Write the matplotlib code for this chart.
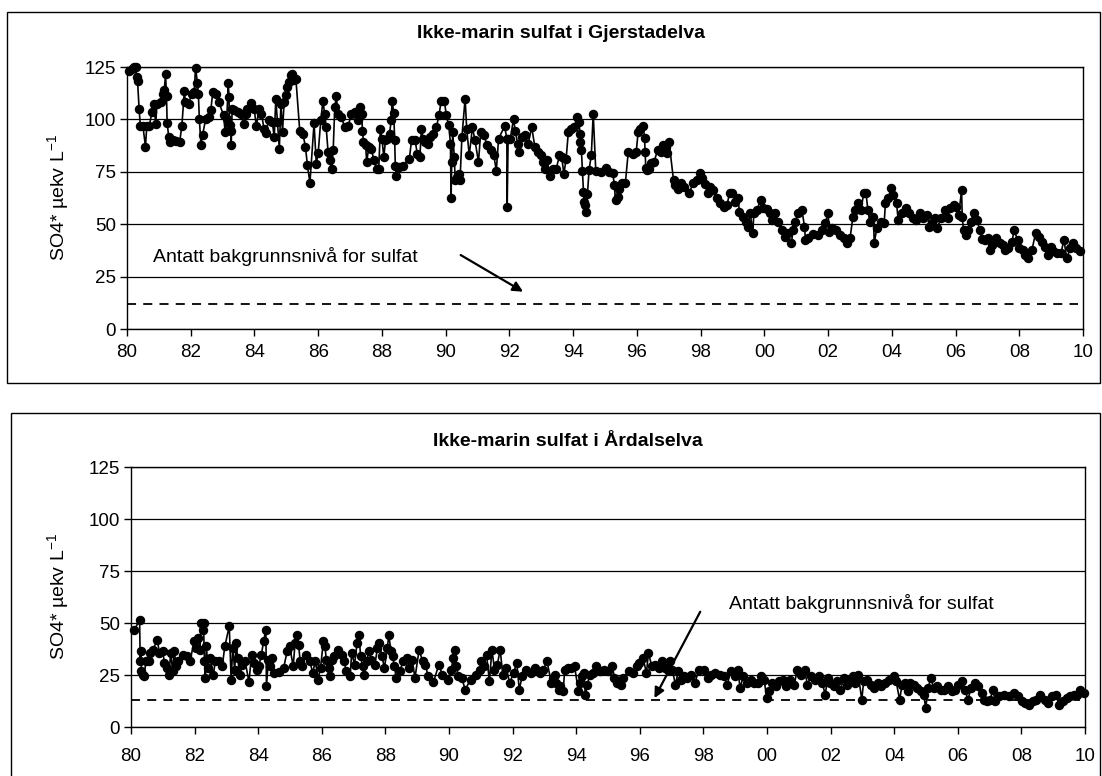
import matplotlib
matplotlib.use("Agg")
import matplotlib.pyplot as plt
from matplotlib.patches import Rectangle

plt.rcParams['font.family'] = ['Liberation Sans', 'DejaVu Sans']

# ---- data: (decimal year, SO4* µekv/L) ----
gj_1980_84 = [
    (1980.05, 123), (1980.15, 124), (1980.22, 125), (1980.28, 125), (1980.30, 120), (1980.33, 118.5),
    (1980.38, 105), (1980.42, 96.7), (1980.50, 96.7), (1980.58, 87), (1980.62, 96.7), (1980.70, 96.7),
    (1980.78, 103.5), (1980.85, 107.5), (1980.90, 97.6), (1980.94, 107.5),
    (1981.07, 108.3), (1981.12, 112), (1981.17, 114), (1981.21, 121.5), (1981.24, 111), (1981.26, 98.5),
    (1981.31, 91.5), (1981.36, 89), (1981.45, 90), (1981.55, 89.5), (1981.65, 89), (1981.72, 96.7),
    (1981.80, 113.5), (1981.83, 108.3), (1981.93, 107.5),
    (1982.03, 112), (1982.11, 113), (1982.15, 124.7), (1982.21, 117.4), (1982.24, 112), (1982.27, 100.3),
    (1982.32, 88), (1982.37, 92.4), (1982.47, 100.3), (1982.58, 101), (1982.63, 104.3), (1982.69, 113),
    (1982.78, 112), (1982.88, 108.3),
    (1983.03, 102), (1983.08, 94), (1983.13, 100.3), (1983.18, 117.4), (1983.20, 110.7), (1983.22, 97.1),
    (1983.25, 94.7), (1983.27, 88), (1983.30, 105), (1983.37, 104.3), (1983.48, 103.5), (1983.58, 102.7),
    (1983.66, 97.6), (1983.73, 102.7), (1983.78, 105), (1983.88, 107.8), (1983.99, 105),
    (1984.06, 96.7), (1984.14, 105), (1984.22, 102.7), (1984.30, 95.5), (1984.35, 93.5), (1984.45, 99.5),
    (1984.56, 98.7), (1984.62, 91.6), (1984.67, 109.9), (1984.72, 98.7), (1984.78, 86), (1984.83, 107.5),
    (1984.88, 94), (1984.93, 108.3), (1984.98, 111.5),
]
gj_1985_89 = [
    (1985.03, 115.5), (1985.09, 117.8), (1985.14, 121), (1985.19, 121.8), (1985.25, 118.6), (1985.30, 119.4),
    (1985.42, 94.7), (1985.52, 93), (1985.60, 87), (1985.66, 78.3), (1985.74, 69.7), (1985.87, 98.2),
    (1985.94, 78.8),
    (1986.00, 84), (1986.08, 99.5), (1986.15, 109), (1986.20, 102.7), (1986.25, 96.3), (1986.31, 84.4),
    (1986.36, 80.4), (1986.42, 76.4), (1986.47, 85.2), (1986.52, 105.9), (1986.57, 111), (1986.62, 102.7),
    (1986.73, 101), (1986.83, 96.3), (1986.94, 96.7),
    (1987.04, 102.7), (1987.15, 103.5), (1987.25, 99.5), (1987.31, 105.9), (1987.36, 102.7), (1987.39, 94.7),
    (1987.42, 89.2), (1987.49, 87.6), (1987.52, 79.6), (1987.59, 86.8), (1987.66, 86), (1987.75, 80.7),
    (1987.83, 76.4), (1987.90, 76.4), (1987.95, 95.5),
    (1988.00, 90.8), (1988.06, 82), (1988.11, 90), (1988.16, 90.8), (1988.24, 93.2), (1988.29, 99.5),
    (1988.32, 109), (1988.37, 103), (1988.40, 90), (1988.42, 78), (1988.45, 73.2), (1988.52, 77.2),
    (1988.65, 78), (1988.86, 81.2), (1988.93, 90),
    (1989.04, 90), (1989.11, 83.6), (1989.19, 82), (1989.24, 95.5), (1989.29, 90.8), (1989.35, 89.2),
    (1989.45, 88.4), (1989.52, 91.6), (1989.60, 93.2), (1989.71, 96.3), (1989.79, 101.9), (1989.86, 109),
    (1989.96, 109),
]
gj_1990_94 = [
    (1990.02, 101.9), (1990.10, 97.1), (1990.15, 88.4), (1990.17, 62.6), (1990.19, 79.6), (1990.22, 94),
    (1990.27, 82), (1990.30, 70.9), (1990.36, 72.5), (1990.41, 74), (1990.45, 70.9), (1990.51, 91.6),
    (1990.61, 109.9), (1990.66, 95.5), (1990.74, 82.8), (1990.84, 96.3), (1990.92, 90),
    (1991.03, 79.6), (1991.10, 94), (1991.20, 92.4), (1991.30, 87.6), (1991.41, 85.2), (1991.51, 82.8),
    (1991.59, 75.6), (1991.66, 90.8), (1991.85, 96.7), (1991.92, 90.8), (1991.93, 58.3), (1991.96, 90.8),
    (1992.03, 90.8), (1992.13, 100.3), (1992.18, 94.7), (1992.26, 88.4), (1992.30, 84.4), (1992.39, 91.6),
    (1992.49, 92.4), (1992.59, 88.4), (1992.70, 96.3), (1992.80, 86.8), (1992.90, 84.4), (1992.98, 82.8),
    (1993.06, 79.6), (1993.13, 76.4), (1993.19, 80.4), (1993.26, 73.2), (1993.37, 76.4), (1993.47, 76.4),
    (1993.57, 82.8), (1993.64, 82), (1993.71, 74), (1993.78, 81.2), (1993.85, 94), (1993.93, 95.5),
    (1994.04, 96.3), (1994.12, 101), (1994.19, 98.7), (1994.21, 93.2), (1994.23, 89.2), (1994.26, 85.2),
    (1994.29, 75.6), (1994.32, 65.3), (1994.34, 60.7), (1994.37, 59), (1994.40, 55.6), (1994.45, 64.5),
    (1994.50, 76), (1994.57, 82.8), (1994.63, 102.7), (1994.71, 75.6), (1994.86, 74.8),
]
gj_1995_99 = [
    (1995.03, 77), (1995.14, 75), (1995.25, 74.2), (1995.29, 68.7), (1995.33, 61.5), (1995.40, 63.1),
    (1995.44, 67), (1995.53, 69.5), (1995.64, 69.8), (1995.73, 84.5), (1995.89, 83.4), (1995.98, 84.5),
    (1996.04, 94), (1996.11, 95.6), (1996.20, 96.8), (1996.24, 90.9), (1996.26, 84.5), (1996.28, 76.6),
    (1996.32, 75.8), (1996.37, 76.1), (1996.43, 79), (1996.54, 79.8), (1996.65, 85.3), (1996.76, 84.5),
    (1996.82, 87.7), (1996.90, 86.6), (1996.96, 83.8),
    (1997.01, 89.3), (1997.15, 71), (1997.21, 68.7), (1997.30, 66.6), (1997.38, 69.5), (1997.49, 67.9),
    (1997.64, 65), (1997.77, 69.5), (1997.88, 71), (1997.97, 74.2),
    (1998.05, 71.9), (1998.13, 69.2), (1998.22, 64.7), (1998.31, 67.9), (1998.38, 66.3), (1998.50, 62.3),
    (1998.61, 60), (1998.72, 58.4), (1998.83, 59.2), (1998.91, 65),
    (1999.00, 64.7), (1999.09, 60.8), (1999.17, 62.3), (1999.22, 56), (1999.34, 53.6), (1999.43, 51.2),
    (1999.48, 48.9), (1999.56, 55.2), (1999.64, 45.7), (1999.67, 55.2), (1999.76, 56.8), (1999.89, 61.5),
    (1999.95, 57.6),
]
gj_2000_04 = [
    (2000.08, 57.1), (2000.17, 55.2), (2000.23, 52), (2000.34, 55.2), (2000.43, 51.2), (2000.57, 47.3),
    (2000.66, 43.8), (2000.73, 45.7), (2000.85, 40.9), (2000.90, 47.3), (2000.96, 51.2),
    (2001.07, 55.2), (2001.18, 56.8), (2001.26, 48.9), (2001.29, 42.5), (2001.37, 43.3), (2001.52, 45.4),
    (2001.68, 44.9), (2001.80, 47.3), (2001.91, 50.4), (2002.00, 55.2),
    (2002.04, 46.5), (2002.13, 48.1), (2002.24, 47.3), (2002.36, 44.9), (2002.49, 43.3), (2002.58, 40.9),
    (2002.69, 43.3), (2002.78, 53.6), (2002.86, 56.8), (2002.94, 60),
    (2003.03, 56.8), (2003.12, 64.7), (2003.19, 64.7), (2003.25, 56.8), (2003.31, 51.2), (2003.42, 53.6),
    (2003.45, 41.2), (2003.53, 48.1), (2003.65, 51.2), (2003.76, 50.4), (2003.80, 60), (2003.87, 62.3),
    (2003.99, 67.1),
    (2004.03, 63.9), (2004.15, 60), (2004.20, 52), (2004.31, 55.2), (2004.43, 57.6), (2004.54, 55.2),
    (2004.65, 52.8), (2004.76, 52), (2004.87, 55.2), (2004.99, 52.8),
]
gj_2005_09 = [
    (2005.10, 54.4), (2005.18, 48.9), (2005.26, 50.4), (2005.35, 52.8), (2005.43, 48.1), (2005.54, 52.8),
    (2005.66, 56.8), (2005.77, 52.8), (2005.82, 57.6), (2005.94, 59.2),
    (2006.03, 58.4), (2006.10, 54.4), (2006.19, 66.3), (2006.21, 53.6), (2006.25, 47.3), (2006.33, 44.9),
    (2006.38, 47.3), (2006.47, 51.2), (2006.58, 55.2), (2006.66, 52), (2006.77, 47.3), (2006.83, 42.8),
    (2006.94, 42.5),
    (2007.03, 43.3), (2007.07, 37.8), (2007.16, 40.1), (2007.27, 43.3), (2007.38, 40.9), (2007.50, 40.1),
    (2007.55, 37.8), (2007.66, 38.5), (2007.78, 41.7), (2007.83, 47.3), (2007.95, 42.5),
    (2008.00, 38.5), (2008.11, 37.8), (2008.19, 35.4), (2008.28, 33.8), (2008.40, 37.8), (2008.51, 45.7),
    (2008.62, 44.1), (2008.71, 41.7), (2008.82, 39.3), (2008.90, 35.4),
    (2009.01, 39.3), (2009.07, 37), (2009.18, 36.2), (2009.31, 36.2), (2009.40, 42.5), (2009.49, 33.8),
    (2009.60, 38.5), (2009.69, 40.9), (2009.79, 38.5), (2009.91, 37.4),
]

ar_1980_84 = [
    (1980.11, 46.8), (1980.27, 51.6), (1980.29, 31.6), (1980.31, 36.4), (1980.33, 26.8), (1980.38, 25.2),
    (1980.41, 24.4), (1980.47, 31.6), (1980.56, 31.6), (1980.60, 35.6), (1980.69, 37.2), (1980.83, 42),
    (1980.89, 35.6),
    (1981.00, 36.4), (1981.05, 30.8), (1981.14, 28.4), (1981.19, 25.2), (1981.25, 35.6), (1981.31, 26.8),
    (1981.36, 36.4), (1981.42, 29.2), (1981.47, 31.6), (1981.64, 34.8), (1981.75, 34), (1981.86, 31.6),
    (1981.98, 41.2),
    (1982.05, 38), (1982.12, 42.8), (1982.17, 37.2), (1982.20, 50), (1982.25, 46.8), (1982.28, 50),
    (1982.31, 31.6), (1982.34, 23.6), (1982.37, 38.8), (1982.42, 28.4), (1982.48, 33.2), (1982.59, 25.2),
    (1982.65, 31.6), (1982.76, 31.6), (1982.87, 29.2), (1982.95, 38.8),
    (1983.09, 48.4), (1983.15, 22.8), (1983.20, 38), (1983.26, 27.6), (1983.31, 40.4), (1983.35, 33.2),
    (1983.43, 25.2), (1983.50, 30), (1983.59, 31.6), (1983.71, 21.5), (1983.79, 34.8), (1983.87, 30.8),
    (1983.95, 27.6),
    (1984.02, 29.2), (1984.10, 34.8), (1984.17, 41.2), (1984.24, 46.8), (1984.26, 19.6), (1984.32, 32.4),
    (1984.37, 29.2), (1984.43, 33.2), (1984.51, 26), (1984.65, 26.3), (1984.80, 28.4), (1984.91, 36.4),
    (1984.99, 38.8),
]
ar_1985_89 = [
    (1985.10, 29.2), (1985.16, 40.4), (1985.21, 44.4), (1985.27, 39.6), (1985.32, 31.6), (1985.38, 29.2),
    (1985.51, 34.8), (1985.63, 31.6), (1985.71, 26), (1985.80, 31.6), (1985.88, 22.8), (1985.96, 28.4),
    (1986.05, 41.2), (1986.10, 38.8), (1986.14, 32.4), (1986.22, 28.4), (1986.27, 24.4), (1986.33, 32.4),
    (1986.38, 34), (1986.52, 37.2), (1986.63, 34.8), (1986.70, 31.6), (1986.77, 26.8), (1986.89, 24.4),
    (1986.94, 35.6),
    (1987.03, 30), (1987.11, 40.4), (1987.17, 44.4), (1987.22, 34), (1987.28, 29.2), (1987.33, 25.2),
    (1987.41, 31.6), (1987.48, 36.4), (1987.56, 32.4), (1987.67, 30), (1987.75, 38), (1987.81, 40.4),
    (1987.89, 34), (1987.97, 28.4),
    (1988.06, 38), (1988.11, 44.4), (1988.17, 36.4), (1988.23, 34), (1988.28, 29.2), (1988.34, 23.6),
    (1988.45, 26.8), (1988.56, 31.6), (1988.67, 33.2), (1988.75, 28.4), (1988.84, 32.4), (1988.93, 23.6),
    (1989.06, 37.2), (1989.17, 31.6), (1989.26, 30), (1989.34, 24.4), (1989.51, 21.5), (1989.68, 30),
    (1989.79, 25.2), (1989.96, 22.8),
]
ar_1990_94 = [
    (1990.07, 27.6), (1990.13, 33.2), (1990.18, 37.2), (1990.23, 29.2), (1990.29, 24.4), (1990.40, 23.6),
    (1990.51, 18), (1990.68, 22.8), (1990.85, 25.2), (1990.96, 27.6),
    (1991.02, 31.6), (1991.09, 29.2), (1991.18, 34.8), (1991.27, 22), (1991.35, 37.2), (1991.43, 27.6),
    (1991.52, 30), (1991.61, 37.2), (1991.69, 25.2), (1991.80, 28.4), (1991.91, 21.2),
    (1992.03, 26), (1992.13, 30.8), (1992.21, 18), (1992.30, 24.4), (1992.41, 27.6), (1992.58, 26),
    (1992.69, 28.4), (1992.86, 26), (1992.97, 27.6),
    (1993.08, 31.6), (1993.22, 21.2), (1993.28, 23.6), (1993.33, 25.2), (1993.37, 21.2), (1993.45, 18),
    (1993.50, 19.6), (1993.59, 17.1), (1993.64, 27.6), (1993.73, 28.4), (1993.84, 28.4), (1993.95, 29.2),
    (1994.07, 17.1), (1994.12, 21.2), (1994.18, 24.4), (1994.24, 26), (1994.29, 15.5), (1994.35, 20.4),
    (1994.43, 25.2), (1994.52, 26), (1994.63, 29.2), (1994.74, 26.8), (1994.86, 27.6), (1994.99, 26.8),
]
ar_1995_99 = [
    (1995.14, 29.2), (1995.20, 23.6), (1995.29, 21.2), (1995.40, 20.4), (1995.48, 23.6), (1995.65, 26.8),
    (1995.78, 26), (1995.90, 29.2), (1995.99, 30.8),
    (1996.10, 33.2), (1996.21, 26), (1996.27, 35.6), (1996.38, 29.2), (1996.49, 30), (1996.61, 28.4),
    (1996.69, 31.6), (1996.78, 28.4), (1996.89, 27.6), (1996.95, 31.6),
    (1997.02, 27.6), (1997.12, 20.4), (1997.21, 26.8), (1997.28, 22.8), (1997.40, 24.4), (1997.48, 23.6),
    (1997.62, 25.2), (1997.74, 21.2), (1997.85, 27.6),
    (1998.02, 27.6), (1998.13, 23.6), (1998.24, 25.2), (1998.36, 26), (1998.53, 25.2), (1998.64, 24.4),
    (1998.75, 20.4), (1998.86, 26.8), (1998.98, 24.4),
    (1999.09, 27.6), (1999.15, 18.8), (1999.26, 24.4), (1999.37, 21.2), (1999.49, 22.8), (1999.60, 21.2),
    (1999.71, 21.2), (1999.82, 24.4), (1999.91, 22.8), (1999.99, 13.9),
]
ar_2000_04 = [
    (2000.07, 17.1), (2000.16, 21.2), (2000.28, 19.6), (2000.39, 22), (2000.50, 22.8), (2000.61, 19.6),
    (2000.73, 22.8), (2000.86, 20.4), (2000.95, 27.6),
    (2001.07, 25.2), (2001.18, 27.6), (2001.27, 20.4), (2001.38, 24.4), (2001.52, 22.8), (2001.63, 24.4),
    (2001.74, 21.2), (2001.83, 15.5), (2001.91, 23.6), (2001.99, 21.2),
    (2002.10, 19.6), (2002.19, 22), (2002.31, 18), (2002.42, 23.6), (2002.51, 20.4), (2002.59, 22.8),
    (2002.70, 24.4), (2002.78, 21.2), (2002.87, 25.2), (2002.98, 13.1),
    (2003.04, 22), (2003.15, 22.8), (2003.27, 20.4), (2003.38, 18.8), (2003.49, 21.2), (2003.60, 19.6),
    (2003.72, 21.2), (2003.83, 22.8), (2003.98, 24.4),
    (2004.06, 22), (2004.17, 13.1), (2004.25, 20.4), (2004.34, 21.2), (2004.43, 17.1), (2004.51, 21.2),
    (2004.62, 20.4), (2004.73, 18.8), (2004.85, 17.1), (2004.93, 15.5), (2004.99, 9.1),
]
ar_2005_09 = [
    (2005.07, 18.8), (2005.15, 23.6), (2005.24, 18.8), (2005.35, 19.6), (2005.47, 18), (2005.58, 18),
    (2005.69, 19.6), (2005.81, 17.1), (2005.92, 18),
    (2006.01, 20.4), (2006.12, 22), (2006.24, 18), (2006.31, 13.1), (2006.43, 18.8), (2006.54, 21.2),
    (2006.65, 19.6), (2006.76, 16.3), (2006.82, 13.1), (2006.93, 12.3),
    (2007.02, 13.1), (2007.10, 18), (2007.18, 12.3), (2007.30, 14.7), (2007.44, 15.5), (2007.61, 15),
    (2007.78, 16.3), (2007.89, 14.7),
    (2008.01, 12.3), (2008.12, 11.5), (2008.23, 10.7), (2008.35, 12.3), (2008.46, 13.1), (2008.60, 15.5),
    (2008.74, 13.1), (2008.85, 11.5), (2008.97, 14.7),
    (2009.08, 15.5), (2009.19, 10.7), (2009.30, 12.3), (2009.42, 13.9), (2009.53, 14.7), (2009.64, 15.5),
    (2009.76, 15.5), (2009.85, 18), (2009.96, 16.3),
]

gj_background = 12
ar_background = 13
note = "Antatt bakgrunnsnivå for sulfat"
yticks = [0, 25, 50, 75, 100, 125]
xticks = list(range(1980, 2011, 2))
xlabels = [f"{y % 100:02d}" for y in xticks]

W, H = 1102, 776


def fx(px):
    return px / W


def fy(py):
    return 1 - py / H


fig = plt.figure(figsize=(W / 100, H / 100), dpi=100)

# outer frames around each chart
fig.add_artist(Rectangle((fx(7), fy(383)), (1100 - 7) / W, (383 - 12) / H,
                         transform=fig.transFigure, fill=False, ec='black', lw=1))
fig.add_artist(Rectangle((fx(11), -0.05), (1100 - 11) / W, fy(413) + 0.05,
                         transform=fig.transFigure, fill=False, ec='black', lw=1))

ax1 = fig.add_axes([fx(127), fy(329), (1083 - 127) / W, (329 - 67) / H])
ax2 = fig.add_axes([fx(131), fy(727), (1085 - 131) / W, (727 - 467) / H])

panels = [
    (ax1, [gj_1980_84, gj_1985_89, gj_1990_94, gj_1995_99, gj_2000_04, gj_2005_09], gj_background, 6),
    (ax2, [ar_1980_84, ar_1985_89, ar_1990_94, ar_1995_99, ar_2000_04, ar_2005_09], ar_background, 10),
]

for ax, chunks, bg, xpad in panels:
    pts = [p for c in chunks for p in c]
    xs = [p[0] for p in pts]
    ys = [p[1] for p in pts]
    ax.plot(xs, ys, '-o', color='black', lw=1.2, ms=5.8, zorder=3, clip_on=False)
    ax.axhline(bg, color='black', lw=1.3, ls=(0, (5, 4)), xmax=0.995, zorder=2)

    ax.set_xlim(1980, 2010)
    ax.set_ylim(0, 125)
    ax.set_xticks(xticks)
    ax.set_xticklabels(xlabels)
    ax.set_yticks(yticks)
    ax.yaxis.grid(True, color='black', lw=0.9)
    ax.set_axisbelow(True)
    ax.tick_params(axis='both', direction='out', length=5, width=1, labelsize=13.5, colors='black')
    ax.tick_params(axis='x', pad=xpad)
    ax.tick_params(axis='y', pad=3)
    for s in ax.spines.values():
        s.set_color('black')
        s.set_linewidth(1)
    ax.set_ylabel('SO4* µekv L$^{\\mathregular{-1}}$', fontsize=14)

ax1.yaxis.set_label_coords((72 - 127) / 956, 0.5)
ax2.yaxis.set_label_coords((72 - 131) / 954, 0.5)

fig.text(fx(561), fy(33), 'Ikke-marin sulfat i Gjerstadelva', ha='center', va='center',
         fontsize=14, fontweight='bold')
fig.text(fx(568), fy(442), 'Ikke-marin sulfat i Årdalselva', ha='center', va='center',
         fontsize=14, fontweight='bold')

arrow = dict(arrowstyle='-|>', color='black', lw=1.6, mutation_scale=15, shrinkA=0, shrinkB=0)

ax1.text(1980.83, 34.4, note, ha='left', va='center', fontsize=14)
ax1.annotate('', xy=(1992.43, 17.8), xytext=(1990.47, 35.3), arrowprops=arrow)

ax2.text(1998.8, 59.6, note, ha='left', va='center', fontsize=14)
ax2.annotate('', xy=(1996.46, 13.9), xytext=(1997.9, 55.4), arrowprops=arrow)

fig.savefig('out.png', dpi=100)
